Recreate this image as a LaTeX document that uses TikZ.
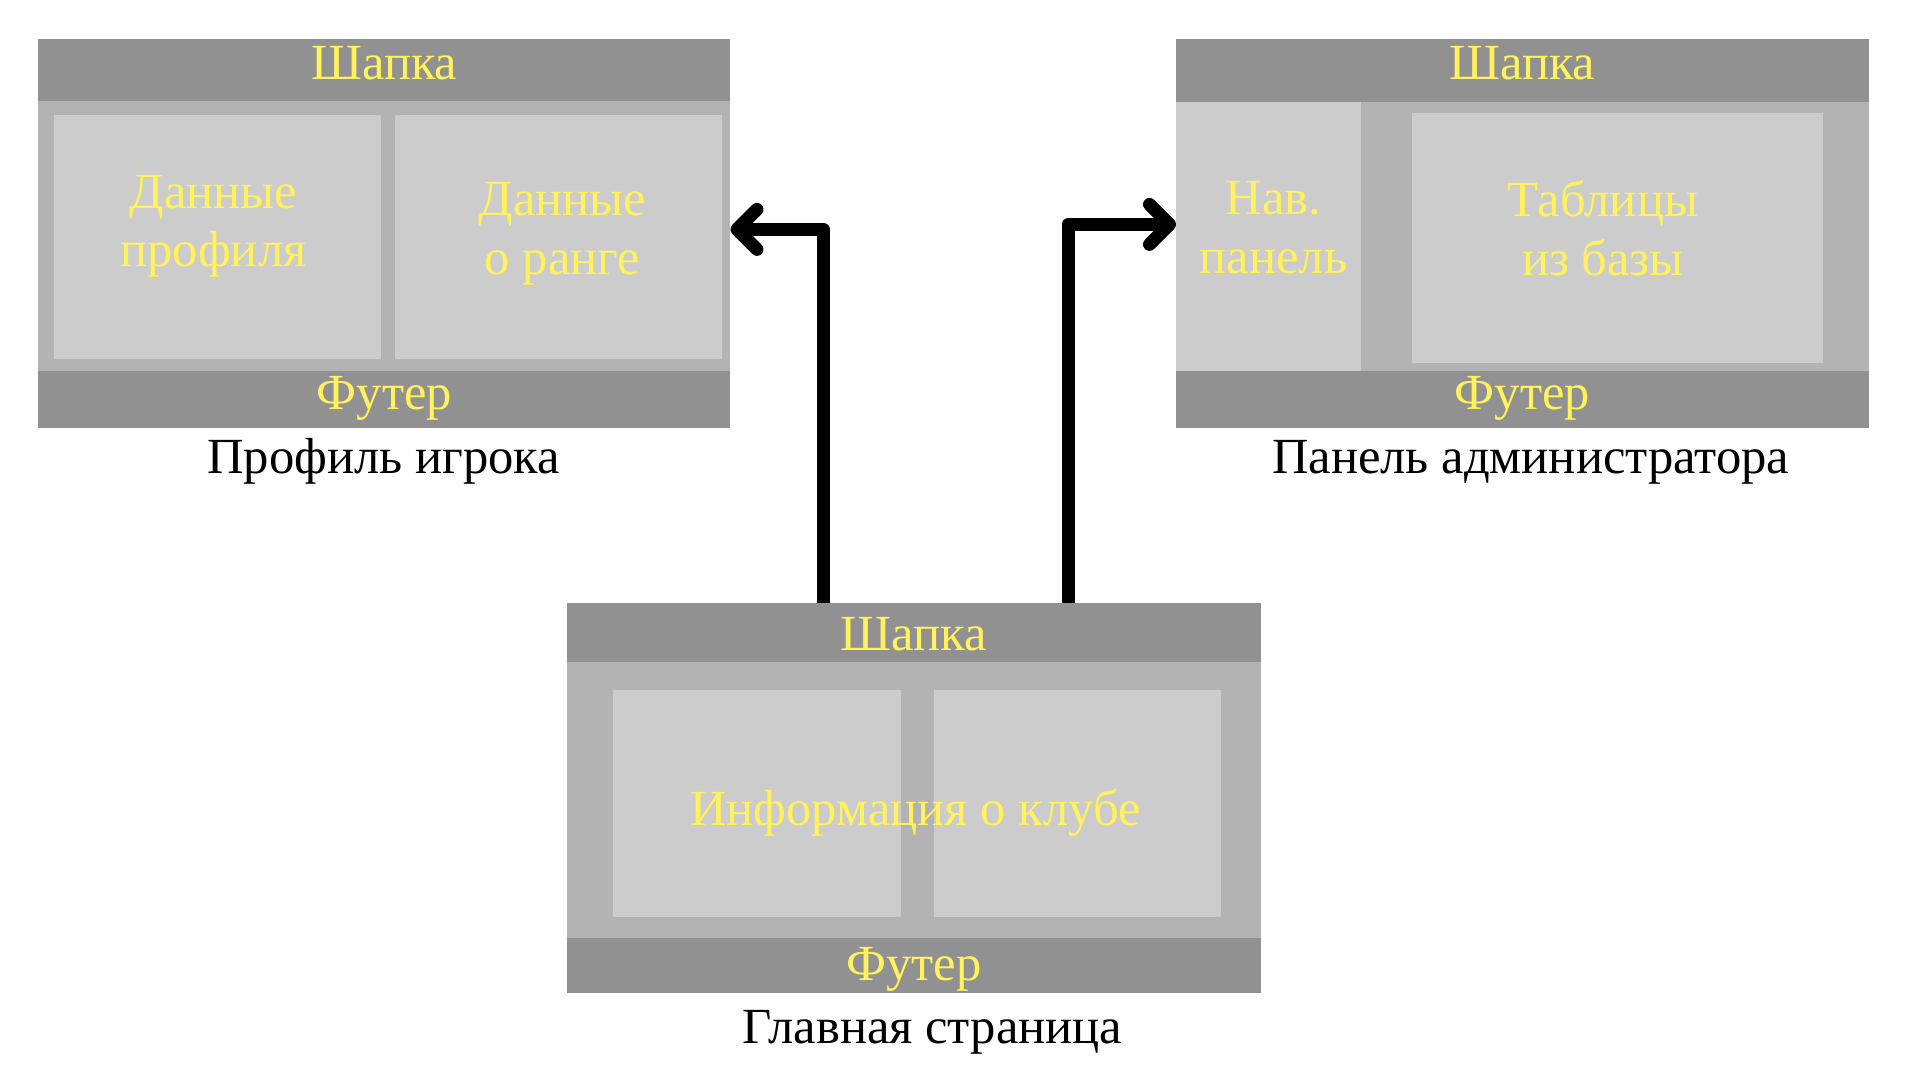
\documentclass[tikz,border=0pt]{standalone}
\usepackage{fontspec}
\setmainfont{Liberation Serif}
\usetikzlibrary{arrows.meta,calc}
\pgfdeclarelayer{bg}
\pgfsetlayers{bg,main}
\definecolor{barg}{RGB}{145,145,145}
\definecolor{bodyg}{RGB}{179,179,179}
\definecolor{cellg}{RGB}{204,204,204}
\definecolor{txty}{RGB}{255,242,92}
\begin{document}
\begin{tikzpicture}[x=0.1mm,y=-0.1mm,
  frame/.style={fill=bodyg,inner sep=0pt,outer sep=0pt,anchor=north west},
  bar/.style={fill=barg,inner sep=0pt,outer sep=0pt,anchor=north west},
  cell/.style={fill=cellg,inner sep=0pt,outer sep=0pt,anchor=north west},
  ytxt/.style={text=txty,inner sep=0pt,anchor=base,align=center,font=\fontsize{14.4}{16.6}\selectfont},
  ktxt/.style={text=black,inner sep=0pt,anchor=base,font=\fontsize{14.4}{16.6}\selectfont},
  conn/.style={line width=1.3mm,line join=round,-{Straight Barb[length=2mm,width=4mm,line cap=round,line join=round]}}]
\useasboundingbox (0,0) rectangle (1920,1080);

% Profile page
\node[frame,minimum width=69.25mm,minimum height=38.87mm] (profile) at (38,39) {};
\node[bar,minimum width=69.25mm,minimum height=6.2mm] (profileH) at (38,39) {};
\node[bar,minimum width=69.25mm,minimum height=5.7mm] (profileF) at (38,370.7) {};
\node[cell,minimum width=32.72mm,minimum height=24.37mm] (profileA) at (53.8,115) {};
\node[cell,minimum width=32.72mm,minimum height=24.37mm] (profileB) at (395,115) {};
\node[ytxt] (profileHt) at (384.3,79.3) {Шапка};
\node[ytxt] (profileAt) at (213.5,266.7) {Данные\\профиля};
\node[ytxt] (profileBt) at (562.5,274) {Данные\\о ранге};
\node[ytxt] (profileFt) at (384.3,409) {Футер};
\node[ktxt] (profileL) at (383.7,473.5) {Профиль игрока};

% Admin page
\node[frame,minimum width=69.27mm,minimum height=38.87mm] (admin) at (1176,39) {};
\node[bar,minimum width=69.27mm,minimum height=6.27mm] (adminH) at (1176,39) {};
\node[bar,minimum width=69.27mm,minimum height=5.7mm] (adminF) at (1176,370.7) {};
\node[cell,minimum width=18.5mm,minimum height=26.9mm] (adminN) at (1176,101.7) {};
\node[cell,minimum width=41.1mm,minimum height=24.94mm] (adminT) at (1412,113.3) {};
\node[ytxt] (adminHt) at (1522.3,79.3) {Шапка};
\node[ytxt] (adminNt) at (1273.5,273.3) {Нав.\\панель};
\node[ytxt] (adminTt) at (1603,275) {Таблицы\\из базы};
\node[ytxt] (adminFt) at (1522.3,409) {Футер};
\node[ktxt] (adminL) at (1530.7,473.3) {Панель администратора};

% Main page
\node[frame,minimum width=69.33mm,minimum height=38.94mm] (main) at (567.4,603.3) {};
\node[bar,minimum width=69.33mm,minimum height=5.84mm] (mainH) at (567.4,603.3) {};
\node[bar,minimum width=69.33mm,minimum height=5.5mm] (mainF) at (567.4,937.7) {};
\node[cell,minimum width=28.74mm,minimum height=22.67mm] (mainA) at (613.4,690) {};
\node[cell,minimum width=28.7mm,minimum height=22.67mm] (mainB) at (933.8,690) {};
\node[ytxt] (mainHt) at (914,650) {Шапка};
\node[ytxt] (mainCt) at (915.5,825) {Информация о клубе};
\node[ytxt] (mainFt) at (914,980) {Футер};
\node[ktxt] (mainL) at (932.6,1043) {Главная страница};

\begin{pgfonlayer}{bg}
\fill[white] (0,0) rectangle (1920,1080);
\draw[conn] ($(main.north)+(-90.7,0)$) |- ($(profile.east)+(0,-4)$);
\draw[conn] ($(main.north)+(154,0)$) |- ($(admin.west)+(0,-9)$);
\end{pgfonlayer}
\end{tikzpicture}
\end{document}
